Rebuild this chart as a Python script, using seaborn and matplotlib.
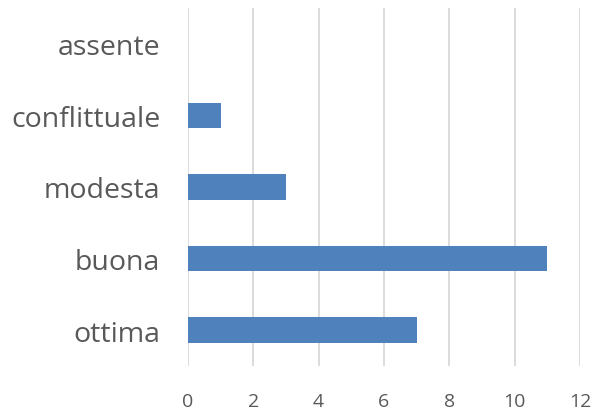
import matplotlib
matplotlib.use("Agg")
import matplotlib.pyplot as plt
import seaborn as sns
import pandas as pd

categories = ["assente", "conflittuale", "modesta", "buona", "ottima"]
values = [0, 1, 3, 11, 7]
xticks = [0, 2, 4, 6, 8, 10, 12]

df = pd.DataFrame({"cat": categories, "val": values})

sns.set_style("white")
plt.rcParams['font.family'] = ['Open Sans', 'DejaVu Sans']

fig = plt.figure(figsize=(5.93, 4.10), dpi=100)
ax = fig.add_axes([0.317, 0.105, 0.661, 0.873])
sns.barplot(data=df, y="cat", x="val", order=categories, color="#4F81BD",
            saturation=1, width=0.36, linewidth=0, ax=ax)
ax.set_xlim(0, 12)
ax.set_ylim(4.5, -0.5)
ax.set_xticks(xticks)
ax.set_xticklabels([str(t) for t in xticks])
ax.grid(axis="x", color="#D9D9D9", linewidth=1.3)
ax.set_axisbelow(True)
for s in ax.spines.values():
    s.set_visible(False)
ax.set_xlabel("")
ax.set_ylabel("")
ax.tick_params(axis="y", labelsize=20.5, colors="#595959", length=0, pad=20)
ax.tick_params(axis="x", labelsize=14, colors="#595959", length=0, pad=19)
fig.savefig("out.png", dpi=100)
